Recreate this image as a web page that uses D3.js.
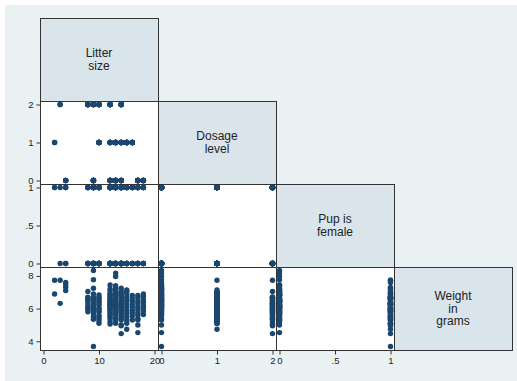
<!DOCTYPE html>
<html>
<head>
<meta charset="utf-8">
<script src="https://cdn.jsdelivr.net/npm/d3@7"></script>
<style>
  body { margin: 0; background: #fff; }
  text { font-family: "Liberation Sans", Arial, sans-serif; }
</style>
</head>
<body>
<div id="chartPlaceholder"></div>
<script>
// variables shown on the diagonal, in matrix order
const varNames = ["litter", "dose", "female", "weight"];
const varLabels = [["Litter", "size"], ["Dosage", "level"], ["Pup is", "female"], ["Weight", "in", "grams"]];
const varTicks = [[0, 10, 20], [0, 1, 2], [0, 0.5, 1], [4, 6, 8]];

// one entry per litter group (litter size + dosage), pup weights split by sex
const groupLitterSize = [2, 3, 4, 8, 9, 9, 10, 10, 12, 12, 12, 13, 13, 14, 14, 14, 15, 16, 17, 18];
const groupDose = [1, 2, 0, 2, 0, 2, 2, 1, 0, 1, 2, 0, 1, 0, 1, 2, 1, 1, 0, 0];
const femaleWeights = [
  [7.73, 6.89],
  [7.73],
  [7.6, 7.3],
  [6.7, 6.55, 6.3, 6.0, 5.8],
  [6.9, 6.4, 6.05, 3.68],
  [6.7, 6.3, 5.9, 5.5],
  [6.6, 6.2, 5.8, 5.4],
  [6.5, 6.0, 5.5, 5.1],
  [7.2, 6.9, 6.6, 6.3, 6.0],
  [6.7, 6.3, 5.9, 5.5],
  [6.2, 5.8, 5.4, 5.05],
  [7.25, 6.95, 6.65, 6.35, 6.05, 5.75],
  [6.8, 6.4, 6.0, 5.6, 5.3, 5.1],
  [7.05, 6.7, 6.3, 5.9],
  [6.6, 6.2, 5.8, 5.4],
  [6.1, 5.7, 5.3, 4.95, 4.47],
  [7.05, 6.7, 6.3, 5.9, 5.5, 5.1, 4.74],
  [6.6, 6.25, 5.9, 5.55, 5.3],
  [6.65, 6.3, 5.95, 5.6, 5.3, 5.0],
  [6.75, 6.4, 6.05, 5.64],
];
const maleWeights = [
  [],
  [6.32],
  [7.45, 7.1],
  [7.05, 6.65, 6.45, 6.15, 5.95],
  [8.33, 7.77, 7.24, 6.6, 6.2, 5.8],
  [6.5, 6.1, 5.7, 5.35],
  [6.7, 6.4, 6.0, 5.6],
  [6.83, 6.3, 5.85, 5.25],
  [7.45, 7.1, 6.8, 6.5, 6.2],
  [6.9, 6.5, 6.1, 5.7],
  [6.4, 6.0, 5.6, 5.2],
  [8.17, 7.96, 7.4, 7.1, 6.8, 6.5, 6.2],
  [7.0, 6.6, 6.2, 5.8, 5.4],
  [7.24, 6.9, 6.5, 6.1],
  [6.95, 6.8, 6.4, 6.0, 5.6],
  [6.3, 5.9, 5.5, 5.0],
  [7.14, 6.9, 6.5, 6.1, 5.7, 5.3],
  [6.8, 6.45, 6.1, 5.75],
  [6.8, 6.45, 6.1, 5.75, 5.4, 4.53],
  [6.9, 6.55, 6.2, 5.85],
];

function buildPups() {
  const pups = [];
  for (let i = 0; i < groupLitterSize.length; i++) {
    femaleWeights[i].forEach((w) => {
      pups.push({ litter: groupLitterSize[i], dose: groupDose[i], female: 1, weight: w });
    });
    maleWeights[i].forEach((w) => {
      pups.push({ litter: groupLitterSize[i], dose: groupDose[i], female: 0, weight: w });
    });
  }
  return pups;
}

function composeChart(pups) {
  const width = 517,
    height = 381,
    pad = 3.5,
    markerColor = "#1a476f",
    lineColor = "#333";

  const svg = d3
    .select("#chartPlaceholder")
    .append("svg")
    .attr("width", width)
    .attr("height", height);

  // graph region background (white strip on the left and top edge)
  svg.append("rect").attr("x", 5).attr("y", 5).attr("width", width - 5).attr("height", height - 5).attr("fill", "#eaf1f3");

  const n = varNames.length;
  const col = d3.scaleBand().domain(d3.range(n)).range([40, 512]);
  const row = d3.scaleBand().domain(d3.range(n)).range([18, 350]);
  const cw = col.bandwidth(),
    ch = row.bandwidth();

  // one x and one y scale per variable, covering data and ticks
  const xScales = [],
    yScales = [];
  varNames.forEach((v, k) => {
    const ext = d3.extent(pups, (d) => d[v]);
    const ticks = varTicks[k];
    const domain = [Math.min(ext[0], ticks[0]), Math.max(ext[1], ticks[ticks.length - 1])];
    xScales.push(d3.scaleLinear().domain(domain).range([col(k) + pad, col(k) + cw - pad]));
    yScales.push(d3.scaleLinear().domain(domain).range([row(k) + ch - pad, row(k) + pad]));
  });

  const fmt = (d) => String(d).replace(/^0\./, ".");

  // cell backgrounds
  for (let r = 0; r < n; r++) {
    for (let c = 0; c <= r; c++) {
      svg
        .append("rect")
        .attr("x", col(c))
        .attr("y", row(r))
        .attr("width", cw)
        .attr("height", ch)
        .attr("fill", r === c ? "#d9e5eb" : "#fff");
    }
  }

  // scatter points below the diagonal
  for (let r = 1; r < n; r++) {
    for (let c = 0; c < r; c++) {
      svg
        .append("g")
        .selectAll("circle")
        .data(pups)
        .join("circle")
        .attr("cx", (d) => xScales[c](d[varNames[c]]))
        .attr("cy", (d) => yScales[r](d[varNames[r]]))
        .attr("r", 2.7)
        .attr("fill", markerColor);
    }
  }

  // diagonal labels
  for (let k = 0; k < n; k++) {
    const lines = varLabels[k];
    const lh = 12.6;
    const cy = row(k) + ch / 2;
    const t = svg
      .append("text")
      .attr("text-anchor", "middle")
      .attr("font-size", 12)
      .attr("fill", "#222");
    lines.forEach((line, i) => {
      t.append("tspan")
        .attr("x", col(k) + cw / 2)
        .attr("y", cy + (i - (lines.length - 1) / 2) * lh + 4.2)
        .text(line);
    });
  }

  // cell borders on top of the markers
  for (let r = 0; r < n; r++) {
    for (let c = 0; c <= r; c++) {
      svg
        .append("rect")
        .attr("x", col(c) + 0.5)
        .attr("y", row(r) + 0.5)
        .attr("width", cw)
        .attr("height", ch)
        .attr("fill", "none")
        .attr("stroke", lineColor)
        .attr("stroke-width", 1);
    }
  }

  // left axes for rows 2-4
  for (let r = 1; r < n; r++) {
    const g = svg
      .append("g")
      .attr("transform", "translate(40.5, 0)")
      .call(d3.axisLeft(yScales[r]).tickValues(varTicks[r]).tickFormat(fmt).tickSize(4).tickPadding(3));
    g.select(".domain").remove();
    g.selectAll("line").attr("stroke", lineColor);
    g.selectAll("text").attr("font-size", 9.5).attr("fill", "#222").style("font-family", "Liberation Sans, Arial, sans-serif");
  }

  // bottom axes for columns 1-3
  for (let c = 0; c < n - 1; c++) {
    const g = svg
      .append("g")
      .attr("transform", "translate(0, 350.5)")
      .call(d3.axisBottom(xScales[c]).tickValues(varTicks[c]).tickFormat(fmt).tickSize(4).tickPadding(3));
    g.select(".domain").remove();
    g.selectAll("line").attr("stroke", lineColor);
    g.selectAll("text").attr("font-size", 9.5).attr("fill", "#222").style("font-family", "Liberation Sans, Arial, sans-serif");
  }
}

composeChart(buildPups());
</script>
</body>
</html>
